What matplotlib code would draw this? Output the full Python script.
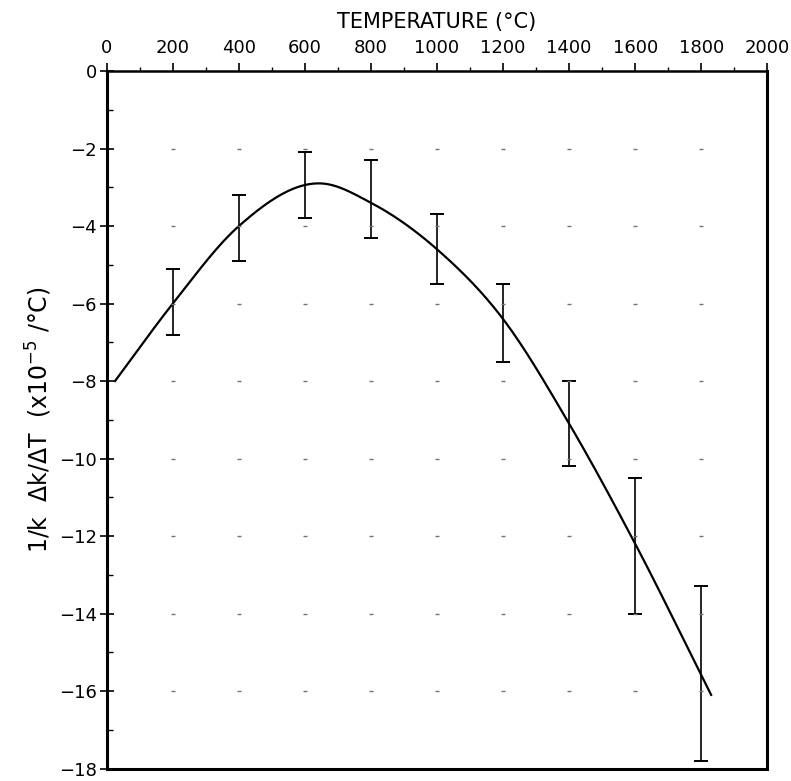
import numpy as np
import matplotlib.pyplot as plt
from matplotlib.ticker import MultipleLocator

# measured points: temperature (C) and error bar limits (x1e-5 /C)
temp = [200, 400, 600, 800, 1000, 1200, 1400, 1600, 1800]
err_low = [-6.8, -4.9, -3.8, -4.3, -5.5, -7.5, -10.2, -14.0, -17.8]
err_high = [-5.1, -3.2, -2.1, -2.3, -3.7, -5.5, -8.0, -10.5, -13.3]

# fitted curve, read along its length
curve_t = [25, 200, 400, 650, 800, 1000, 1200, 1400, 1600, 1830]
curve_v = [-8.0, -6.0, -4.0, -2.9, -3.4, -4.6, -6.4, -9.1, -12.2, -16.1]


def smooth(xs, ys, n=40):
    # cubic hermite through every point, slopes from neighbours
    xs = np.asarray(xs, float)
    ys = np.asarray(ys, float)
    m = np.gradient(ys, xs)
    out_x, out_y = [], []
    for i in range(len(xs) - 1):
        h = xs[i + 1] - xs[i]
        s = np.linspace(0, 1, n, endpoint=False)
        h00 = 2 * s**3 - 3 * s**2 + 1
        h10 = s**3 - 2 * s**2 + s
        h01 = -2 * s**3 + 3 * s**2
        h11 = s**3 - s**2
        out_x.append(xs[i] + s * h)
        out_y.append(h00 * ys[i] + h10 * h * m[i] + h01 * ys[i + 1]
                     + h11 * h * m[i + 1])
    out_x.append([xs[-1]])
    out_y.append([ys[-1]])
    return np.concatenate(out_x), np.concatenate(out_y)


fig = plt.figure(figsize=(7.91, 7.81), dpi=100)
ax = fig.add_axes([0.135, 0.016, 0.835, 0.893])

tt, vv = smooth(curve_t, curve_v)
ax.plot(tt, vv, color='black', lw=1.6)

lo = np.array(err_low)
hi = np.array(err_high)
mid = (lo + hi) / 2
ax.errorbar(temp, mid, yerr=[mid - lo, hi - mid], fmt='none', ecolor='black',
            elinewidth=1.2, capsize=5, capthick=1.4)

# faint dot grid at the major intersections
gx, gy = np.meshgrid(np.arange(200, 1801, 200), np.arange(-16, -1, 2))
ax.plot(gx.ravel(), gy.ravel(), ls='none', marker='_', ms=3, mew=1,
        color='0.45')

ax.set_xlim(0, 2000)
ax.set_ylim(-18, 0)
ax.xaxis.set_major_locator(MultipleLocator(200))
ax.xaxis.set_minor_locator(MultipleLocator(100))
ax.yaxis.set_major_locator(MultipleLocator(2))
ax.yaxis.set_minor_locator(MultipleLocator(1))
ax.xaxis.tick_top()
ax.xaxis.set_label_position('top')
ax.tick_params(axis='x', which='major', direction='out', length=6, width=1.2,
               labelsize=13, pad=4)
ax.tick_params(axis='x', which='minor', direction='out', length=3, width=1)
ax.tick_params(axis='y', which='major', direction='inout', length=10,
               width=1.2, labelsize=13, pad=2)
ax.tick_params(axis='y', which='minor', direction='in', length=4, width=1)
ax.set_yticks(np.arange(-18, 1, 2))
ax.set_yticklabels([f'\u2212{abs(v)}' if v else '0' for v in range(-18, 1, 2)])

for side in ['left', 'right', 'bottom']:
    ax.spines[side].set_linewidth(2.2)
ax.spines['top'].set_linewidth(1.8)

ax.set_xlabel('TEMPERATURE (\u00b0C)', fontsize=15, labelpad=8)
ax.set_ylabel('1/k  \u0394k/\u0394T  (x10$^{-5}$ /\u00b0C)', fontsize=17,
              labelpad=4)

fig.savefig('out.png', dpi=100)
